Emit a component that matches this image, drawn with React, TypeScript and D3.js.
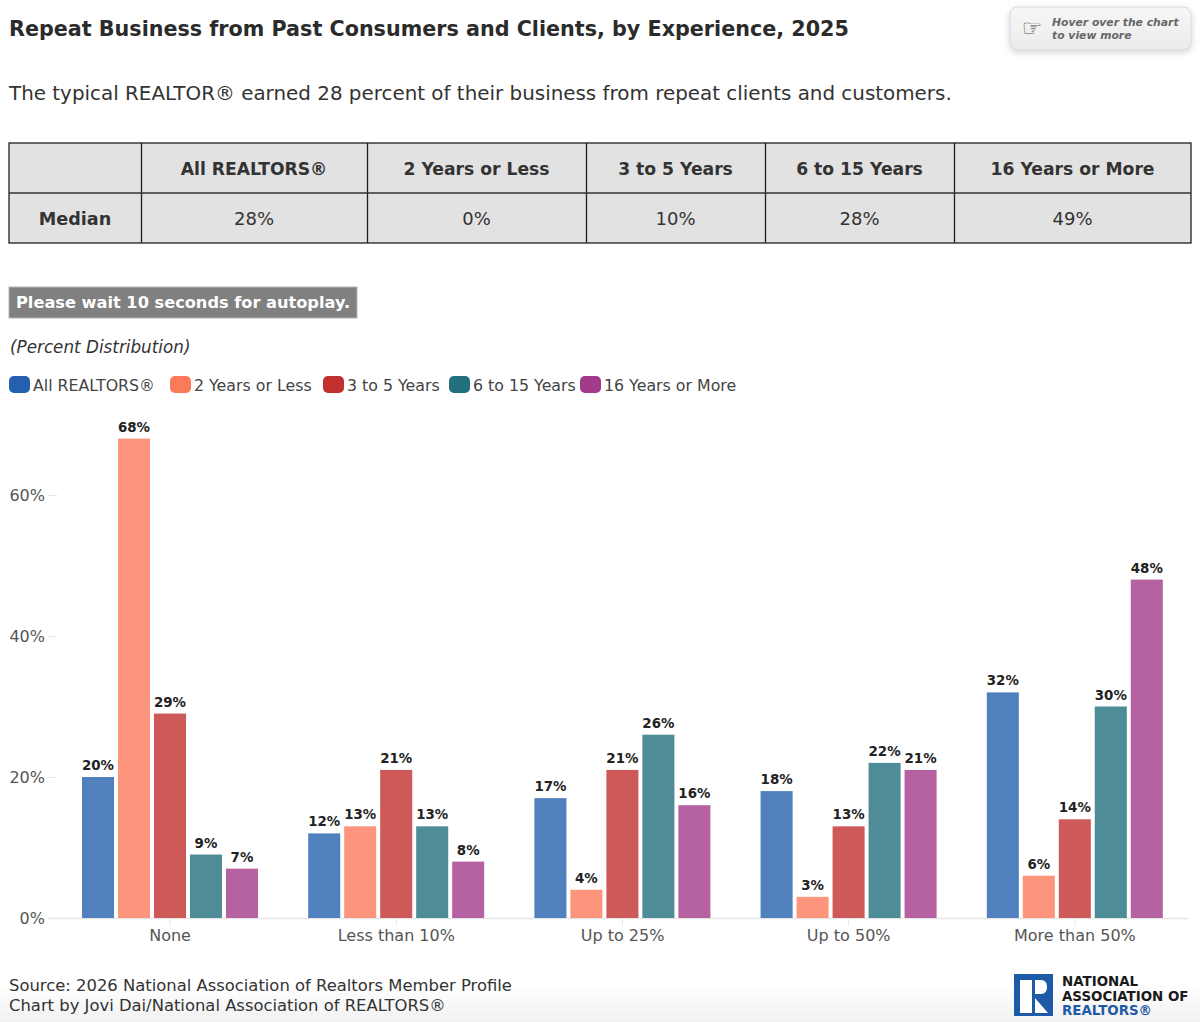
import React, { useEffect, useRef } from 'react';
import * as d3 from 'd3';

const categories = ['None', 'Less than 10%', 'Up to 25%', 'Up to 50%', 'More than 50%'];
const seriesNames = ['All REALTORS®', '2 Years or Less', '3 to 5 Years', '6 to 15 Years', '16 Years or More'];
const seriesColors = ['#2460ae', '#fb7a5a', '#c12f2f', '#226f7e', '#a43a8b'];
const allRealtors = [20, 12, 17, 18, 32];
const twoOrLess = [68, 13, 4, 3, 6];
const threeToFive = [29, 21, 21, 13, 14];
const sixToFifteen = [9, 13, 26, 22, 30];
const sixteenOrMore = [7, 8, 16, 21, 48];
const seriesValues = [allRealtors, twoOrLess, threeToFive, sixToFifteen, sixteenOrMore];
const yTicks = [0, 20, 40, 60];
const medians = ['28%', '0%', '10%', '28%', '49%'];

const FONT = '"DejaVu Sans", sans-serif';
const INK = '#333333';

const App: React.FC = () => {
    const svgRef = useRef<SVGSVGElement | null>(null);

    useEffect(() => {
        document.body.style.margin = '0';
        const svg = d3.select(svgRef.current);
        svg.selectAll('*').remove();
        svg.attr('width', 1200).attr('height', 1022).style('display', 'block').style('font-family', FONT);

        const defs = svg.append('defs');
        const bottomFade = defs.append('linearGradient').attr('id', 'bottomFade').attr('x1', 0).attr('x2', 0).attr('y1', 0).attr('y2', 1);
        bottomFade.append('stop').attr('offset', '0%').attr('stop-color', '#ffffff');
        bottomFade.append('stop').attr('offset', '100%').attr('stop-color', '#f1f1f1');
        const hintFill = defs.append('linearGradient').attr('id', 'hintFill').attr('x1', 0).attr('x2', 0).attr('y1', 0).attr('y2', 1);
        hintFill.append('stop').attr('offset', '0%').attr('stop-color', '#f7f7f7');
        hintFill.append('stop').attr('offset', '100%').attr('stop-color', '#ebebeb');
        defs.append('filter').attr('id', 'hintShadow').attr('x', '-10%').attr('y', '-30%').attr('width', '120%').attr('height', '170%')
            .append('feDropShadow').attr('dx', 0).attr('dy', 2).attr('stdDeviation', 3).attr('flood-color', '#000').attr('flood-opacity', 0.18);

        svg.append('rect').attr('width', 1200).attr('height', 1022).attr('fill', '#ffffff');
        svg.append('rect').attr('y', 985).attr('width', 1200).attr('height', 37).attr('fill', 'url(#bottomFade)');

        // title block
        svg.append('text').attr('x', 9).attr('y', 36).attr('font-size', 20.7).attr('font-weight', 700).attr('fill', '#2b2b2b')
            .text('Repeat Business from Past Consumers and Clients, by Experience, 2025');
        svg.append('text').attr('x', 9).attr('y', 100).attr('font-size', 19.9).attr('fill', INK)
            .text('The typical REALTOR® earned 28 percent of their business from repeat clients and customers.');

        // hover hint
        const hint = svg.append('g');
        hint.append('rect').attr('x', 1010).attr('y', 7).attr('width', 181).attr('height', 43).attr('rx', 8)
            .attr('fill', 'url(#hintFill)').attr('stroke', '#d8d8d8').attr('filter', 'url(#hintShadow)');
        hint.append('text').attr('x', 1032).attr('y', 36).attr('text-anchor', 'middle').attr('font-size', 23).attr('fill', '#555').text('☞');
        hint.selectAll('text.line').data(['Hover over the chart', 'to view more']).enter().append('text')
            .attr('class', 'line').attr('x', 1052).attr('y', (_, i) => 26 + i * 13)
            .attr('font-size', 10.8).attr('font-weight', 700).attr('font-style', 'italic').attr('fill', '#666').text(d => d);

        // median table
        const colEdges = [9, 141, 367, 586, 765, 954, 1191];
        const rowEdges = [143, 193, 243];
        const table = svg.append('g');
        table.append('rect').attr('x', colEdges[0]).attr('y', rowEdges[0])
            .attr('width', colEdges[6] - colEdges[0]).attr('height', rowEdges[2] - rowEdges[0])
            .attr('fill', '#e2e2e2').attr('stroke', '#1f1f1f').attr('stroke-width', 1.3);
        table.selectAll('line.col').data(colEdges.slice(1, -1)).enter().append('line').attr('class', 'col')
            .attr('x1', d => d + 0.5).attr('x2', d => d + 0.5).attr('y1', rowEdges[0]).attr('y2', rowEdges[2])
            .attr('stroke', '#1f1f1f').attr('stroke-width', 1.3);
        table.append('line').attr('x1', colEdges[0]).attr('x2', colEdges[6]).attr('y1', rowEdges[1]).attr('y2', rowEdges[1])
            .attr('stroke', '#333').attr('stroke-width', 1.6);
        const colMid = (i: number) => (colEdges[i] + colEdges[i + 1]) / 2;
        table.selectAll('text.head').data(seriesNames).enter().append('text').attr('class', 'head')
            .attr('x', (_, i) => colMid(i + 1)).attr('y', 175).attr('text-anchor', 'middle')
            .attr('font-size', 17.2).attr('font-weight', 700).attr('fill', INK).text(d => d);
        table.selectAll('text.med').data(medians).enter().append('text').attr('class', 'med')
            .attr('x', (_, i) => colMid(i + 1)).attr('y', 225).attr('text-anchor', 'middle')
            .attr('font-size', 18).attr('fill', INK).text(d => d);
        table.append('text').attr('x', colMid(0)).attr('y', 225).attr('text-anchor', 'middle')
            .attr('font-size', 17.6).attr('font-weight', 700).attr('fill', INK).text('Median');

        // autoplay note
        svg.append('rect').attr('x', 9).attr('y', 287).attr('width', 348).attr('height', 31)
            .attr('fill', '#808080').attr('stroke', '#b5b5b5');
        svg.append('text').attr('x', 16).attr('y', 308).attr('font-size', 16.2).attr('font-weight', 700).attr('fill', '#ffffff')
            .text('Please wait 10 seconds for autoplay.');
        svg.append('text').attr('x', 10).attr('y', 353).attr('font-size', 16.8).attr('font-style', 'italic').attr('fill', INK)
            .text('(Percent Distribution)');

        // legend
        const legendX = [9, 170, 323, 449, 580];
        const legend = svg.selectAll('g.legend').data(seriesNames).enter().append('g').attr('class', 'legend')
            .attr('transform', (_, i) => `translate(${legendX[i]}, 376)`);
        legend.append('rect').attr('width', 21).attr('height', 17).attr('rx', 5).attr('fill', (_, i) => seriesColors[i]);
        legend.append('text').attr('x', 24).attr('y', 14.5).attr('font-size', 15.8).attr('fill', '#444').text(d => d);

        // chart
        const x = d3.scaleBand<string>().domain(categories).range([57, 1188]).paddingInner(0).paddingOuter(0);
        const inner = d3.scaleBand<number>().domain(d3.range(seriesNames.length)).range([25, 201]).paddingInner(0.11);
        const y = d3.scaleLinear().domain([0, 60]).range([918, 495]);

        const yAxis = svg.append('g').attr('transform', 'translate(57,0)')
            .call(d3.axisLeft(y).tickValues(yTicks).tickSize(9).tickFormat(d => `${d}%`));
        yAxis.select('.domain').remove();
        yAxis.selectAll('line').attr('stroke', '#e6e6e6');
        yAxis.selectAll('text').attr('font-size', 16).attr('font-family', FONT).attr('fill', '#555').attr('x', -12);

        const xAxis = svg.append('g').attr('transform', 'translate(0,918)')
            .call(d3.axisBottom(x).tickSize(8).tickSizeOuter(0));
        xAxis.select('.domain').attr('stroke', '#e6e6e6').attr('stroke-width', 1.5).attr('d', 'M48,0.5H1188');
        xAxis.selectAll('line').attr('stroke', '#e6e6e6');
        xAxis.selectAll('text').attr('font-size', 16).attr('font-family', FONT).attr('fill', '#555').attr('y', 12);

        const groups = svg.selectAll('g.group').data(seriesNames).enter().append('g').attr('class', 'group');
        categories.forEach((cat, c) => {
            groups.append('rect')
                .attr('x', (_, s) => (x(cat) as number) + (inner(s) as number))
                .attr('y', (_, s) => y(seriesValues[s][c]))
                .attr('width', inner.bandwidth())
                .attr('height', (_, s) => y(0) - y(seriesValues[s][c]))
                .attr('fill', (_, s) => seriesColors[s])
                .attr('fill-opacity', 0.8);
            groups.append('text')
                .attr('x', (_, s) => (x(cat) as number) + (inner(s) as number) + inner.bandwidth() / 2)
                .attr('y', (_, s) => y(seriesValues[s][c]) - 7)
                .attr('text-anchor', 'middle')
                .attr('font-size', 13.4)
                .attr('font-weight', 700)
                .attr('fill', '#222')
                .text((_, s) => `${seriesValues[s][c]}%`);
        });

        // source
        svg.selectAll('text.source').data([
            'Source: 2026 National Association of Realtors Member Profile',
            'Chart by Jovi Dai/National Association of REALTORS®',
        ]).enter().append('text').attr('class', 'source').attr('x', 9).attr('y', (_, i) => 991 + i * 20)
            .attr('font-size', 16.4).attr('fill', INK).text(d => d);

        // NAR logo
        const logo = svg.append('g').attr('transform', 'translate(1014,974)');
        logo.append('rect').attr('width', 39).attr('height', 42).attr('fill', '#1f5aa8');
        logo.append('path').attr('fill', '#ffffff')
            .attr('d', 'M6,6H18V39H6Z M21,6H27C31,6 33,9 33,13C33,17 31,20 27,20H21Z M21,24L34,39H21Z');
        const logoLines = [
            { t: 'NATIONAL', c: '#1a1a1a' },
            { t: 'ASSOCIATION OF', c: '#1a1a1a' },
            { t: 'REALTORS®', c: '#1f5aa8' },
        ];
        svg.selectAll('text.logo').data(logoLines).enter().append('text').attr('class', 'logo')
            .attr('x', 1062).attr('y', (_, i) => 986 + i * 14.5)
            .attr('font-size', 13.4).attr('font-weight', 700).attr('fill', d => d.c).text(d => d.t);
    }, []);

    return <svg ref={svgRef}></svg>;
};

export default App;
